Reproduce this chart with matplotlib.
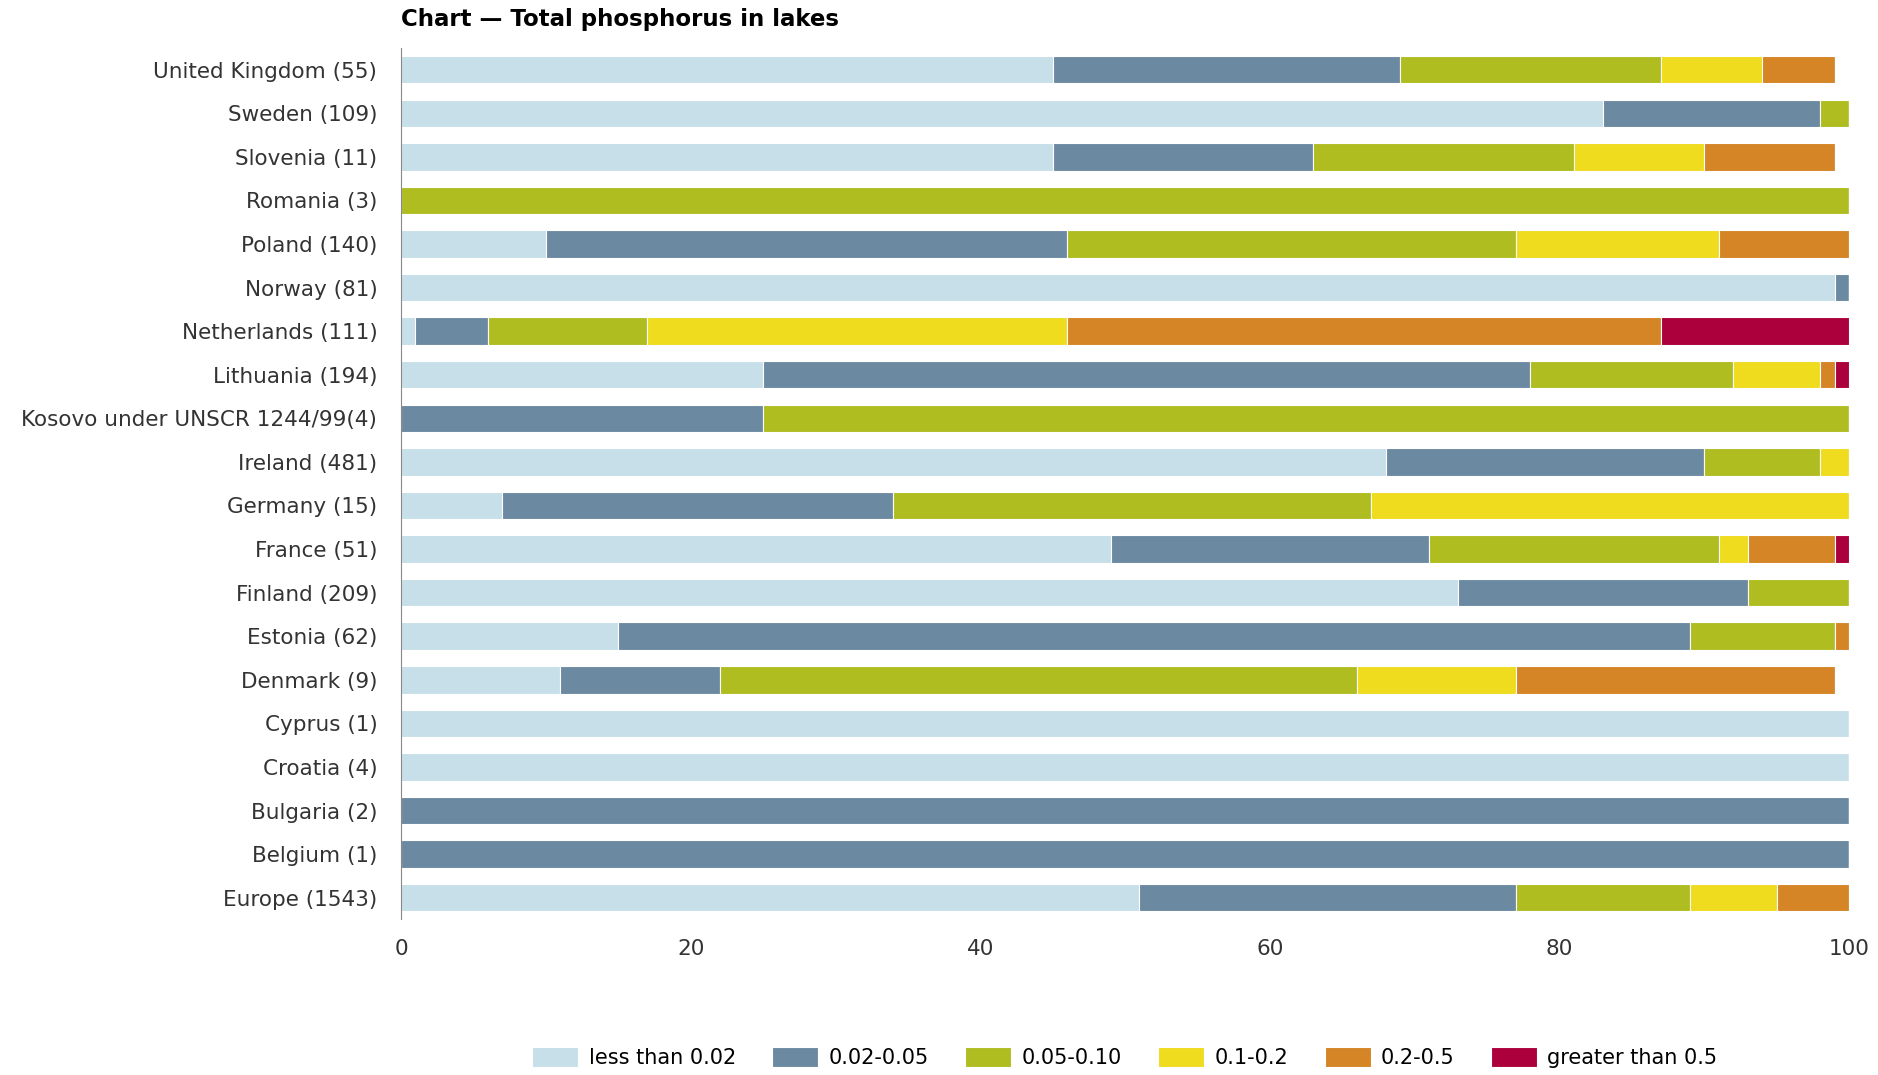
import numpy as np
import matplotlib.pyplot as plt

countries = ["United Kingdom (55)", "Sweden (109)", "Slovenia (11)", "Romania (3)",
             "Poland (140)", "Norway (81)", "Netherlands (111)", "Lithuania (194)",
             "Kosovo under UNSCR 1244/99(4)", "Ireland (481)", "Germany (15)",
             "France (51)", "Finland (209)", "Estonia (62)", "Denmark (9)",
             "Cyprus (1)", "Croatia (4)", "Bulgaria (2)", "Belgium (1)", "Europe (1543)"]

classes = ["less than 0.02", "0.02-0.05", "0.05-0.10", "0.1-0.2", "0.2-0.5", "greater than 0.5"]

lt_002   = [45, 83, 45, 0, 10, 99, 1, 25, 0, 68, 7, 49, 73, 15, 11, 100, 100, 0, 0, 51]
p002_005 = [24, 15, 18, 0, 36, 1, 5, 53, 25, 22, 27, 22, 20, 74, 11, 0, 0, 100, 100, 26]
p005_010 = [18, 2, 18, 100, 31, 0, 11, 14, 75, 8, 33, 20, 7, 10, 44, 0, 0, 0, 0, 12]
p01_02   = [7, 0, 9, 0, 14, 0, 29, 6, 0, 2, 33, 2, 0, 0, 11, 0, 0, 0, 0, 6]
p02_05   = [5, 0, 9, 0, 9, 0, 41, 1, 0, 0, 0, 6, 0, 1, 22, 0, 0, 0, 0, 5]
gt_05    = [0, 0, 0, 0, 0, 0, 13, 1, 0, 0, 0, 1, 0, 0, 0, 0, 0, 0, 0, 0]

colors = ["#c7dfe8", "#6b8aa1", "#afbd21", "#f0dc1e", "#d58526", "#ac003c"]

series = [lt_002, p002_005, p005_010, p01_02, p02_05, gt_05]

fig = plt.figure(figsize=(18.78, 10.75), dpi=100)
ax = fig.add_axes([0.2135, 0.1447, 0.7711, 0.8107])

y = np.arange(len(countries))
left = np.zeros(len(countries))
for vals, col, lab in zip(series, colors, classes):
    vals = np.array(vals, dtype=float)
    ax.barh(y, vals, left=left, height=0.63, color=col, edgecolor="white",
            linewidth=0.8, label=lab)
    left += vals

ax.set_ylim(len(countries) - 0.5, -0.5)
ax.set_xlim(0, 100)
ax.set_yticks(y)
ax.set_yticklabels(countries)
ax.set_xticks([0, 20, 40, 60, 80, 100])
ax.tick_params(axis="both", length=0, labelsize=15.5, labelcolor="#333333")
ax.tick_params(axis="y", pad=17)
ax.tick_params(axis="x", pad=14)
for s in ["top", "right", "bottom"]:
    ax.spines[s].set_visible(False)
ax.spines["left"].set_color("#888888")

fig.text(0.2135, 0.982, "Chart \u2014 Total phosphorus in lakes", fontsize=16.5,
         fontweight="bold", ha="left", va="center")

ax.legend(loc="center", bbox_to_anchor=(0.5, -0.158), ncol=6, frameon=False,
          fontsize=15, handlelength=2.2, handleheight=1.1, columnspacing=1.75,
          handletextpad=0.5)

fig.savefig("out.png", dpi=100)
